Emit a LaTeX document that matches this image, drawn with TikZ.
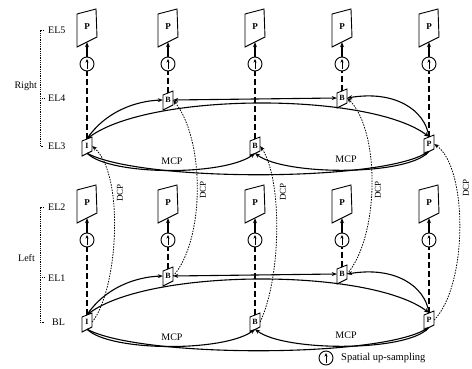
\documentclass[tikz,border=0pt]{standalone}
\usepackage{fontspec}
\setmainfont{Liberation Serif}
\usetikzlibrary{arrows.meta,calc}
\tikzset{
  pframe/.style={minimum width=20pt, minimum height=30pt, inner sep=0pt, font=\fontsize{9}{10}\selectfont\bfseries},
  smallnode/.style={minimum width=10pt, minimum height=14pt, inner sep=0pt, font=\fontsize{8}{9}\selectfont\bfseries},
  upcirc/.style={circle, draw, line width=0.9pt, minimum size=14pt, inner sep=0pt},
  vdash/.style={line width=1.3pt, dash pattern=on 6pt off 3pt},
  conn/.style={line width=1.1pt},
  dcp/.style={line width=0.8pt, dash pattern=on 1.5pt off 1.2pt, ->},
  lbl/.style={font=\fontsize{10}{11}\selectfont, inner sep=0pt},
  dlbl/.style={font=\fontsize{9}{10}\selectfont, inner sep=0pt, rotate=90},
  brk/.style={line width=0.8pt, densely dotted},
}
\newcommand{\bigfr}[1]{\draw[line width=0.9pt] ($(#1)+(-10,-13)$) -- ($(#1)+(9,-18)$) -- ($(#1)+(10,10)$) -- ($(#1)+(-10,20)$) -- cycle;}
\newcommand{\smfr}[1]{\draw[line width=0.9pt] ($(#1)+(-5,-5)$) -- ($(#1)+(5,-9)$) -- ($(#1)+(5,5)$) -- ($(#1)+(-5,10)$) -- cycle;}
\newcommand{\uparr}[1]{\draw[-{Stealth[length=3.5pt,width=3pt]}, line width=0.9pt] ($(#1)+(0,5)$) -- ($(#1)+(0,-5)$);}
\newcommand{\drawlayer}[2]{%
  \foreach \i/\x in {1/87,2/168,3/255,4/342,5/429}{
    \node[pframe] (#1f\i) at (\x,{27+#2}) {P};
    \bigfr{#1f\i}
    \node[upcirc] (#1c\i) at (\x,{64+#2}) {};
    \uparr{#1c\i}
    \draw[conn,->] (#1c\i) -- (#1f\i.south);
  }
  \node[smallnode] (#1n1) at (87,{146+#2}) {I};
  \node[smallnode] (#1n2) at (168,{100+#2}) {B};
  \node[smallnode] (#1n3) at (255,{146+#2}) {B};
  \node[smallnode] (#1n4) at (342,{98+#2}) {B};
  \node[smallnode] (#1n5) at (429,{144+#2}) {P};
  \foreach \i in {1,...,5}{
    \smfr{#1n\i}
    \draw[vdash] (#1n\i.north) -- (#1c\i.south);
  }
  \draw[conn,->] (#1n1.north) .. controls (105,{112+#2}) and (135,{101+#2}) .. (#1n2.west);
  \draw[conn,<->] (#1n1.north) .. controls (150,{92+#2}) and (370,{92+#2}) .. (#1n5.north);
  \draw[conn,<->] (#1n2.east) -- (#1n4.west);
  \draw[conn,->] (#1n5.north) .. controls (425,{110+#2}) and (395,{90+#2}) .. (#1n4.east);
  \draw[conn,->] (#1n1.south) .. controls (110,{176+#2}) and (225,{176+#2}) .. (#1n3.south);
  \draw[conn,->] (#1n5.south) .. controls (410,{176+#2}) and (285,{176+#2}) .. (#1n3.south);
  \draw[conn,->] (#1n1.south) .. controls (140,{182+#2}) and (380,{182+#2}) .. (#1n5.south);
  \node[lbl] (#1m1) at (172,{161+#2}) {MCP};
  \node[lbl] (#1m2) at (346,{159+#2}) {MCP};
}
\begin{document}
\begin{tikzpicture}[x=1pt, y=-1pt, >={Stealth[length=5pt,width=4pt]}]
\useasboundingbox (0,0) rectangle (472,369);
\drawlayer{R}{0}
\drawlayer{L}{176}
% DCP connectors
\draw[dcp] (Ln1.east) .. controls (118,290) and (125,175) .. (Rn1.east);
\draw[dcp] (Ln2.east) .. controls (205,240) and (205,140) .. (Rn2.east);
\draw[dcp] (Ln3.east) .. controls (282,275) and (282,178) .. (Rn3.east);
\draw[dcp] (Ln4.east) .. controls (380,235) and (380,130) .. (Rn4.east);
\draw[dcp] (Ln5.east) .. controls (468,285) and (468,168) .. (Rn5.east);
\node[dlbl] (d1) at (120,193) {DCP};
\node[dlbl] (d2) at (203,190) {DCP};
\node[dlbl] (d3) at (283,192) {DCP};
\node[dlbl] (d4) at (378,190) {DCP};
\node[dlbl] (d5) at (466,188) {DCP};
% brackets
\draw[brk] (44,30) -- (40,30) -- (40,146) -- (44,146);
\draw[brk] (40,98) -- (44,98);
\draw[brk] (44,207) -- (40,207) -- (40,322) -- (44,322);
\draw[brk] (40,277) -- (44,277);
\node[lbl, anchor=west] (el5) at (48,30) {EL5};
\node[lbl, anchor=west] (el4) at (48,98) {EL4};
\node[lbl, anchor=west] (el3) at (48,146) {EL3};
\node[lbl, anchor=west] (el2) at (48,207) {EL2};
\node[lbl, anchor=west] (el1) at (48,278) {EL1};
\node[lbl, anchor=west] (bl) at (52,322) {BL};
\node[lbl, anchor=east] (right) at (37,86) {Right};
\node[lbl, anchor=east] (left) at (35,258) {Left};
% legend
\node[upcirc] (lg) at (326,358) {};
\uparr{lg}
\node[lbl, anchor=west, font=\fontsize{10.5}{12}\selectfont] (lgt) at (341,358) {Spatial up-sampling};
\end{tikzpicture}
\end{document}
